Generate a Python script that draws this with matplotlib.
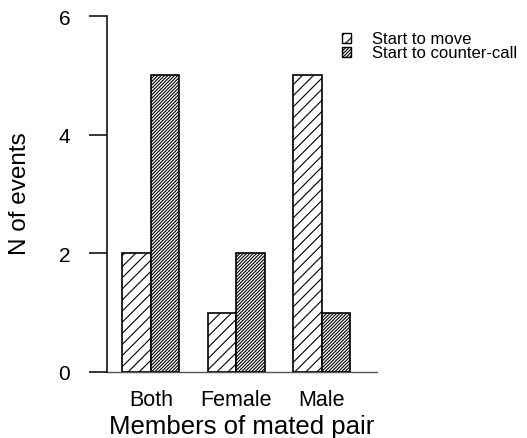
import matplotlib
matplotlib.use("Agg")
import matplotlib.pyplot as plt
from matplotlib.patches import Rectangle
import numpy as np

plt.rcParams['font.family'] = ['Liberation Sans', 'DejaVu Sans']
plt.rcParams['hatch.linewidth'] = 0.8

categories = ["Both", "Female", "Male"]
start_to_move = [2, 1, 5]
start_to_counter_call = [5, 2, 1]
series_names = ["Start to move", "Start to counter-call"]
y_ticks = [0, 2, 4, 6]

W, H = 527, 439
fig = plt.figure(figsize=(W / 100, H / 100), dpi=100)
ax = fig.add_axes([107 / W, (H - 373) / H, (377 - 107) / W, (373 - 17) / H])

sparse_hatch = '///'
dense_hatch = '//////////'

group_left = np.arange(len(categories)) * 3 + 1
ax.bar(group_left, start_to_move, width=1, align='edge', facecolor='white',
       edgecolor='black', linewidth=1.2, hatch=sparse_hatch, zorder=2)
ax.bar(group_left + 1, start_to_counter_call, width=1, align='edge', facecolor='white',
       edgecolor='black', linewidth=1.2, hatch=dense_hatch, zorder=2)

ax.set_xlim(0.463, 9.94)
ax.set_ylim(0, 6)
ax.axhline(0, color='#555555', linewidth=1.0, zorder=1, clip_on=False)

for s in ['top', 'right', 'bottom']:
    ax.spines[s].set_visible(False)
ax.spines['left'].set_linewidth(1.1)
ax.set_yticks(y_ticks)
ax.set_yticklabels([str(v) for v in y_ticks])
ax.tick_params(axis='y', length=13, width=1.1, pad=13.5, labelsize=15)
ax.set_xticks(group_left + 1)
ax.set_xticklabels(categories)
ax.tick_params(axis='x', length=0, pad=12.5, labelsize=15.5)

fig.text(242 / W, (H - 434) / H, "Members of mated pair", ha='center', va='baseline', fontsize=18.5)
fig.text(20 / W, 1 - 194 / H, "N of events", ha='center', va='center', rotation=90, fontsize=17.5)

# legend
hatches = [sparse_hatch, dense_hatch]
rows_y = [39, 53]
for name, hatch, yy in zip(series_names, hatches, rows_y):
    r = Rectangle((342 / W, 1 - (yy + 5) / H), 9 / W, 10 / H, transform=fig.transFigure,
                  facecolor='white', edgecolor='black', linewidth=1.0, hatch=hatch)
    fig.add_artist(r)
    fig.text(372 / W, 1 - yy / H, name, ha='left', va='center', fontsize=12)

fig.savefig("out.png", dpi=100)
